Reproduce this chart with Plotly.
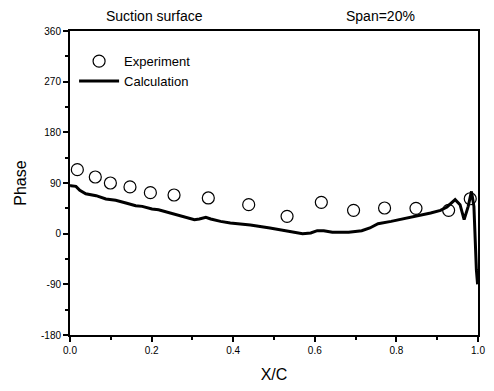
import plotly.graph_objects as go

# Measured phase on the suction surface
exp_x = [0.018, 0.062, 0.099, 0.147, 0.197, 0.255, 0.339, 0.438, 0.532, 0.616,
         0.695, 0.771, 0.848, 0.928, 0.981]
exp_phase = [113.7, 100.7, 90.0, 83.0, 72.8, 68.7, 63.4, 51.5, 30.8, 55.6,
             41.4, 45.6, 45.0, 41.4, 62.0]

# Computed phase distribution
calc_x = [0.0, 0.0024, 0.0145, 0.024, 0.0386, 0.064, 0.088, 0.112, 0.137, 0.161,
          0.177, 0.201, 0.217, 0.241, 0.265, 0.289, 0.305, 0.317, 0.333, 0.345,
          0.369, 0.393, 0.410, 0.442, 0.490, 0.530, 0.570, 0.590, 0.606, 0.622,
          0.643, 0.683, 0.715, 0.735, 0.755, 0.787, 0.819, 0.851, 0.884, 0.908,
          0.924, 0.944, 0.956, 0.966, 0.976, 0.984, 0.990, 0.996, 0.999]
calc_phase = [85.0, 85.3, 84.0, 77.0, 71.0, 67.5, 61.6, 59.2, 54.5, 49.7,
              48.5, 43.9, 42.6, 37.9, 33.7, 27.8, 24.9, 26.1, 29.0, 26.1,
              21.8, 19.0, 17.8, 15.5, 10.1, 5.3, 0.0, 1.2, 5.3, 5.3,
              2.4, 2.4, 5.3, 10.1, 17.8, 21.8, 26.6, 30.8, 36.7, 41.4,
              47.4, 60.4, 51.5, 24.9, 48.5, 75.1, 48.5, -64.0, -90.0]

x_ticks = [0.0, 0.2, 0.4, 0.6, 0.8, 1.0]
x_labels = ["0.0", "0.2", "0.4", "0.6", "0.8", "1.0"]
y_ticks = [-180, -90, 0, 90, 180, 270, 360]
y_labels = ["-180", "-90", "0", "90", "180", "270", "360"]

FONT = "Liberation Sans, Arial, sans-serif"
W, H = 494, 391
ML, MR, MT, MB = 70, 9, 31, 56
PW, PH = W - ML - MR, H - MT - MB


def px_to_paper(px, py):
    return (px - ML) / PW, 1 + (MT - py) / PH


fig = go.Figure()
fig.add_trace(go.Scatter(
    x=exp_x, y=exp_phase, mode="markers", name="Experiment",
    marker=dict(symbol="circle-open", size=12, color="black", line=dict(width=1.2)),
))
fig.add_trace(go.Scatter(
    x=calc_x, y=calc_phase, mode="lines", name="Calculation",
    line=dict(color="black", width=3),
))

header = [("Suction surface", 156, 16), ("Span=20%", 386, 16)]
annotations = []
for text, px, py in header:
    ax, ay = px_to_paper(px, py)
    annotations.append(dict(text=text, x=ax, y=ay, xref="paper", yref="paper",
                            xanchor="center", yanchor="middle",
                            showarrow=False, font=dict(size=14)))

fig.update_layout(
    width=W, height=H,
    margin=dict(l=ML, r=MR, t=MT, b=MB),
    paper_bgcolor="white", plot_bgcolor="white",
    font=dict(family=FONT, color="black"),
    showlegend=True,
    legend=dict(x=0.01, y=0.95, xanchor="left", yanchor="top",
                bgcolor="rgba(0,0,0,0)", font=dict(size=13),
                itemwidth=40, tracegroupgap=0),
    annotations=annotations,
)

fig.update_xaxes(
    range=[0, 1], tickvals=x_ticks, ticktext=x_labels,
    ticks="outside", ticklen=5, tickwidth=1.5, tickcolor="black",
    tickfont=dict(size=10),
    minor=dict(ticks="outside", dtick=0.1, ticklen=3, tickcolor="black"),
    showline=True, linecolor="black", linewidth=2, mirror=True,
    showgrid=False, zeroline=False,
    title=dict(text="X/C", font=dict(size=16), standoff=14),
)
fig.update_yaxes(
    range=[-180, 360], tickvals=y_ticks, ticktext=y_labels,
    ticks="outside", ticklen=5, tickwidth=1.5, tickcolor="black",
    tickfont=dict(size=10),
    minor=dict(ticks="outside", dtick=45, ticklen=3, tickcolor="black"),
    showline=True, linecolor="black", linewidth=2, mirror=True,
    showgrid=False, zeroline=False,
    title=dict(text="Phase", font=dict(size=16), standoff=10),
)

fig.write_html("out.html")
